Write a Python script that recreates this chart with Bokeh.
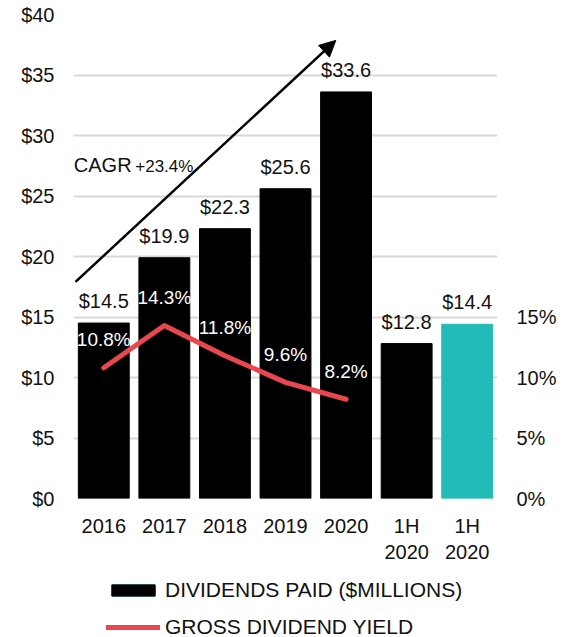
from bokeh.plotting import figure
from bokeh.layouts import column
from bokeh.models import (ColumnDataSource, Range1d, LinearAxis, FixedTicker, Arrow,
                          NormalHead, Label, Legend, LegendItem, LabelSet)
from bokeh.core.properties import value
from bokeh.embed import file_html
from bokeh.resources import INLINE

categories = ["2016", "2017", "2018", "2019", "2020", "1H\n2020", "1H\n2020"]
dividends = [14.5, 19.9, 22.3, 25.6, 33.6, 12.8, 14.4]
div_labels = ["$14.5", "$19.9", "$22.3", "$25.6", "$33.6", "$12.8", "$14.4"]
yield_years = ["2016", "2017", "2018", "2019", "2020"]
yield_pct = [10.8, 14.3, 11.8, 9.6, 8.2]
yield_labels = ["10.8%", "14.3%", "11.8%", "9.6%", "8.2%"]
left_ticks = [0, 5, 10, 15, 20, 25, 30, 35, 40]
right_ticks = [0, 5, 10, 15]
cagr_start = (0.033, 17.9)
cagr_end = (4.33, 37.86)

FONT = "Liberation Sans"
FS = "20px"
TXT = "#111111"
TEAL = "#22BBB7"
RED = "#E8474F"

x = [i + 0.5 for i in range(len(categories))]
xl = [i + 0.5 for i in range(len(yield_years))]

p = figure(width=562, height=565,
           x_range=Range1d(0, len(categories)), y_range=Range1d(0, 40),
           output_backend="svg", toolbar_location=None,
           min_border_left=73, min_border_top=14, min_border_right=65,
           min_border_bottom=64)
p.outline_line_color = None
p.background_fill_color = "white"

src = ColumnDataSource(dict(x=x, top=dividends, lab=div_labels))
black_src = ColumnDataSource(dict(x=x[:-1], top=dividends[:-1]))
teal_src = ColumnDataSource(dict(x=x[-1:], top=dividends[-1:]))
p.vbar(x="x", top="top", width=0.84, source=black_src, color="#000000")
p.vbar(x="x", top="top", width=0.84, source=teal_src, color=TEAL)

p.add_layout(LabelSet(x="x", y="top", text="lab", source=src, text_align="center",
                      text_baseline="middle", y_offset=22, text_font=value(FONT),
                      text_font_size=value(FS), text_color=TXT))

ysrc = ColumnDataSource(dict(x=xl, y=yield_pct, lab=yield_labels))
p.line(x="x", y="y", source=ysrc, line_color=RED, line_width=5,
       line_cap="round", line_join="round")
p.add_layout(LabelSet(x="x", y="y", text="lab", source=ysrc, text_align="center",
                      text_baseline="middle", y_offset=28, text_font=value(FONT),
                      text_font_size=value("19px"), text_color="white"))

p.add_layout(Arrow(x_start=cagr_start[0], y_start=cagr_start[1], x_end=cagr_end[0],
                   y_end=cagr_end[1], line_width=2.5, line_color="black",
                   end=NormalHead(size=16, fill_color="black", line_color="black")))
p.add_layout(Label(x=0.005, y=27.6, text="CAGR", text_font=FONT, text_font_size=FS,
                   text_color=TXT, text_baseline="middle"))
p.add_layout(Label(x=1.02, y=27.45, text="+23.4%", text_font=FONT, text_font_size="17px",
                   text_color=TXT, text_baseline="middle"))

p.ygrid.ticker = FixedTicker(ticks=left_ticks)
p.ygrid.grid_line_color = "#d9d9d9"
p.ygrid.grid_line_width = 2
p.xgrid.grid_line_color = None


def style_axis(ax, standoff):
    ax.axis_line_color = None
    ax.major_tick_line_color = None
    ax.minor_tick_line_color = None
    ax.major_tick_out = 0
    ax.major_tick_in = 0
    ax.minor_tick_out = 0
    ax.major_label_text_font = FONT
    ax.major_label_text_font_size = FS
    ax.major_label_text_color = TXT
    ax.major_label_standoff = standoff


p.yaxis.ticker = FixedTicker(ticks=left_ticks)
p.yaxis.major_label_overrides = {t: "$%d" % t for t in left_ticks}
style_axis(p.yaxis[0], 19)

ra = LinearAxis(ticker=FixedTicker(ticks=right_ticks),
                major_label_overrides={t: "%d%%" % t for t in right_ticks})
style_axis(ra, 19)
p.add_layout(ra, "right")

p.xaxis.ticker = FixedTicker(ticks=x)
p.xaxis.major_label_overrides = {xi: c for xi, c in zip(x, categories)}
style_axis(p.xaxis[0], 16)

# legend panel (its renderers use the chart's sources but sit outside its visible range)
lg = figure(width=562, height=72, x_range=Range1d(0, 1), y_range=Range1d(100, 101),
            output_backend="svg", toolbar_location=None,
            min_border_left=73, min_border_right=65, min_border_top=0, min_border_bottom=0)
lg.axis.visible = False
lg.grid.visible = False
lg.outline_line_color = None
lt = lg.vbar(x="x", top="top", width=0.84, source=teal_src, color=TEAL)
lb = lg.vbar(x="x", top="top", width=0.84, source=black_src, color="#000000")
ll = lg.line(x="x", y="y", source=ysrc, line_color=RED, line_width=5, line_cap="round")
legend = Legend(items=[LegendItem(label="DIVIDENDS PAID ($MILLIONS)", renderers=[lt, lb]),
                       LegendItem(label="GROSS DIVIDEND YIELD", renderers=[ll])],
                orientation="vertical", location=(33, -2),
                label_text_font=FONT, label_text_font_size="21px", label_text_color=TXT,
                glyph_width=54, glyph_height=14, label_height=24, spacing=13,
                label_standoff=5, border_line_color=None, background_fill_alpha=0,
                margin=0, padding=0)
lg.add_layout(legend)

layout = column(p, lg, spacing=0)
open("out.html", "w").write(file_html(layout, INLINE))
